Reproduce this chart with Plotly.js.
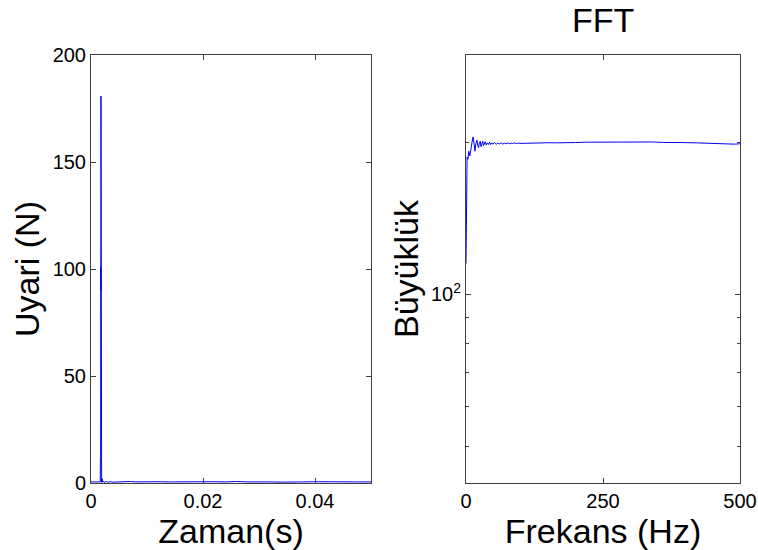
<!DOCTYPE html>
<html>
<head>
<meta charset="utf-8">
<script src="https://cdn.plot.ly/plotly-3.0.1.min.js"></script>
<style>html,body{margin:0;padding:0;background:#fff}#chart{width:758px;height:550px}</style>
</head>
<body>
<div id="chart"></div>
<script>
// Time-domain excitation (left panel)
const timeS = [0, 0.0008, 0.0016, 0.00166, 0.00168, 0.00172, 0.00174, 0.00176, 0.00178, 0.00182, 0.0019, 0.0020, 0.0021, 0.0022, 0.0024, 0.0027, 0.003, 0.0035, 0.004, 0.005, 0.006, 0.007, 0.008, 0.009, 0.010, 0.012, 0.014, 0.016, 0.018, 0.020, 0.022, 0.024, 0.026, 0.028, 0.030, 0.032, 0.034, 0.036, 0.038, 0.040, 0.042, 0.044, 0.046, 0.048, 0.050];
const forceN = [0.5, 0.5, 0.5, 0.5, 11.7, 11.7, 101, 90, 180.8, 0.5, 0.3, 2.0, 0.4, 0.9, 0.3, 0.7, 0.4, 0.6, 0.4, 0.6, 0.5, 0.7, 0.5, 0.6, 0.4, 0.6, 0.5, 0.6, 0.4, 0.5, 0.6, 0.5, 0.7, 0.5, 0.6, 0.5, 0.4, 0.6, 0.5, 0.6, 0.5, 0.4, 0.6, 0.5, 0.5];
const timeTicks = [0, 0.02, 0.04];
const forceTicks = [0, 50, 100, 150, 200];

// FFT magnitude (right panel)
const freqHz = [0, 1, 2, 3.5, 5, 7, 9, 11, 13, 15, 16.5, 18, 20, 21.5, 23, 24.5, 26, 27.5, 29, 30.5, 32, 33.5, 35, 37, 39, 41, 43, 45, 47, 49, 52, 55, 58, 61, 64, 67, 70, 73, 76, 79, 82, 85, 88, 92, 96, 100, 110, 120, 130, 140, 150, 165, 180, 200, 220, 240, 260, 280, 300, 320, 340, 360, 380, 400, 420, 440, 460, 480, 490, 500];
const magnitude = [115, 168, 187, 185, 192, 188, 196, 200, 205, 196, 192, 199, 202, 197, 195, 200, 201, 196, 198, 201, 197, 198.5, 200.5, 197.5, 199.5, 198, 200, 198, 199.5, 198.3, 199.6, 198.2, 199.3, 198.5, 199.5, 198.4, 199.2, 198.6, 199.4, 198.7, 199.3, 198.8, 199.4, 198.9, 199.3, 199.0, 199.2, 199.0, 199.4, 199.2, 199.6, 199.5, 199.9, 199.8, 200.1, 200.2, 200.0, 200.3, 200.4, 200.2, 200.3, 199.9, 200.0, 199.7, 199.5, 199.0, 198.8, 198.6, 198.3, 198.7];
const freqTicks = [0, 250, 500];
const magMajorTicks = [100];
const magMajorLabels = ['10<sup>2</sup>'];
const magMinorTicks = [50, 60, 70, 80, 90, 200];

const FONT = 'Liberation Sans, Arial, Helvetica, sans-serif';
const AX = '#404040';

const traces = [
  {x: timeS, y: forceN, type: 'scatter', mode: 'lines', line: {color: '#0000ff', width: 1}, xaxis: 'x', yaxis: 'y', hoverinfo: 'skip'},
  {x: freqHz, y: magnitude, type: 'scatter', mode: 'lines', line: {color: '#0000ff', width: 1}, xaxis: 'x2', yaxis: 'y2', hoverinfo: 'skip'}
];

const common = {
  showline: true, linecolor: AX, linewidth: 1, mirror: 'ticks',
  ticks: 'inside', ticklen: 5, tickcolor: AX, tickwidth: 1,
  showgrid: false, zeroline: false,
  tickfont: {family: FONT, size: 20, color: '#000'}
};

const layout = {
  width: 758, height: 550,
  margin: {l: 0, r: 0, t: 0, b: 0},
  paper_bgcolor: '#fff', plot_bgcolor: '#fff',
  showlegend: false,
  font: {family: FONT, color: '#000'},
  xaxis: Object.assign({}, common, {
    domain: [91/758, 371/758], range: [0, 0.05],
    tickmode: 'array', tickvals: timeTicks,
    ticklabelstandoff: 0,
    title: {text: 'Zaman(s)', font: {family: FONT, size: 34}, standoff: 2},
    anchor: 'y'
  }),
  yaxis: Object.assign({}, common, {
    domain: [67/550, 495/550], range: [0, 200],
    tickmode: 'array', tickvals: forceTicks,
    ticklabelstandoff: 0,
    title: {text: 'Uyari (N)', font: {family: FONT, size: 34}, standoff: 2},
    anchor: 'x'
  }),
  xaxis2: Object.assign({}, common, {
    domain: [466/758, 740/758], range: [0, 500],
    tickmode: 'array', tickvals: freqTicks,
    ticklabelstandoff: 0,
    title: {text: 'Frekans (Hz)', font: {family: FONT, size: 34}, standoff: 2},
    anchor: 'y2'
  }),
  yaxis2: Object.assign({}, common, {
    domain: [67/550, 495/550], type: 'log', range: [1.626, 2.474],
    tickmode: 'array', tickvals: magMajorTicks, ticktext: magMajorLabels,
    ticklabelstandoff: 0,
    minor: {tickmode: 'array', tickvals: magMinorTicks, ticks: 'inside', ticklen: 3, tickcolor: AX, showgrid: false},
    title: {text: 'Büyüklük', font: {family: FONT, size: 34}, standoff: 2},
    anchor: 'x2'
  }),
  annotations: [
    {text: 'FFT', xref: 'paper', yref: 'paper', x: 603/758, y: (550-20)/550, xanchor: 'center', yanchor: 'middle', showarrow: false, font: {family: FONT, size: 34, color: '#000'}}
  ]
};

Plotly.newPlot('chart', traces, layout, {staticPlot: true, displayModeBar: false});
</script>
</body>
</html>
